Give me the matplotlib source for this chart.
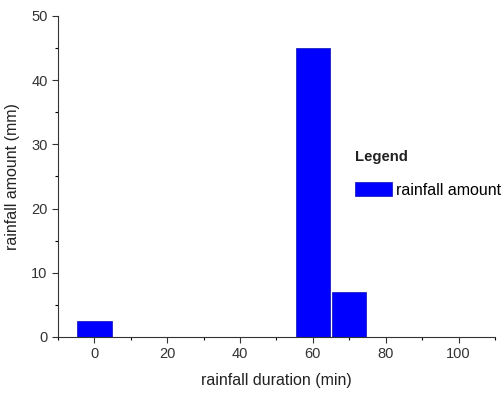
import matplotlib.pyplot as plt
from matplotlib.ticker import MultipleLocator

plt.rcParams['font.family'] = ['Liberation Sans', 'DejaVu Sans']

durations = [0, 60, 70]
amounts = [2.5, 45, 7]
label = 'rainfall amount'

fig = plt.figure(figsize=(5.02, 3.94), dpi=100)
ax = fig.add_axes([0.1155, 0.1447, 0.8705, 0.8147])

ax.bar(durations, amounts, width=9.4, color='#0000ff', edgecolor='#2020c0',
       linewidth=0.6, label=label)

ax.set_xlim(-10, 110)
ax.set_ylim(0, 50)
ax.xaxis.set_major_locator(MultipleLocator(20))
ax.xaxis.set_minor_locator(MultipleLocator(10))
ax.yaxis.set_major_locator(MultipleLocator(10))
ax.yaxis.set_minor_locator(MultipleLocator(5))
ax.tick_params(which='major', direction='out', length=4, width=0.8,
               labelsize=10.5, colors='#333333')
ax.tick_params(which='minor', direction='out', length=2.5, width=0.8)
for s in ['top', 'right']:
    ax.spines[s].set_visible(False)
for s in ['left', 'bottom']:
    ax.spines[s].set_color('#333333')

ax.set_xlabel('rainfall duration (min)', fontsize=11.5, color='#222222', labelpad=8)
ax.set_ylabel('rainfall amount (mm)', fontsize=11.5, color='#222222', labelpad=8)

# legend title placed separately to get the wide gap
ax.text(0.68, 0.561, 'Legend', transform=ax.transAxes, fontsize=10.7,
        fontweight='bold', color='#222222', va='center', ha='left')
ax.legend(loc='center left', bbox_to_anchor=(0.68, 0.458), frameon=False,
          fontsize=11.5, handlelength=2.3, handleheight=0.9, handletextpad=0.25,
          borderaxespad=0, borderpad=0)

fig.savefig('out.png', dpi=100)
